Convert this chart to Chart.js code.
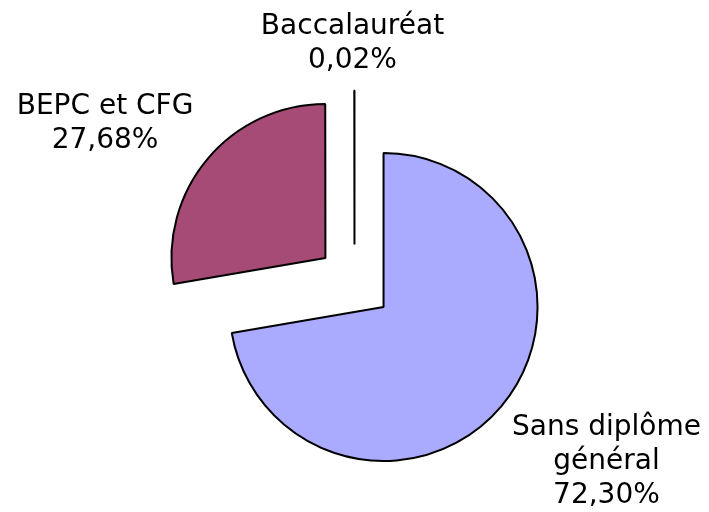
<!DOCTYPE html>
<html>
<head>
<meta charset="utf-8">
<script src="https://cdn.jsdelivr.net/npm/chart.js@4"></script>
<style>
  html, body { margin: 0; padding: 0; background: #fff; }
  #wrap { width: 709px; height: 512px; }
</style>
</head>
<body>
<div id="wrap"><canvas id="pie-chart"></canvas></div>
<script>
// Data
const categories = ['Sans diplôme général', 'BEPC et CFG', 'Baccalauréat'];
const labelLines = [['Sans diplôme', 'général'], ['BEPC et CFG'], ['Baccalauréat']];
const values = [72.30, 27.68, 0.02];
const percentLabels = ['72,30%', '27,68%', '0,02%'];
const colors = ['#AAAAFF', '#A64B76', '#FFFFFF'];

// Excel-style explosion: every slice pushed out along its middle angle
const explode = 38;
// label anchors (block middle), in radius units from the pie centre
const labelPos = [[1.636, 1.146], [-1.62, -1.05], [-0.013, -1.569]];

const explodePlugin = {
  id: 'explode',
  beforeDatasetDraw(chart, args) {
    const ctx = chart.ctx;
    args.meta.data.forEach(arc => {
      const mid = (arc.startAngle + arc.endAngle) / 2;
      ctx.save();
      ctx.translate(Math.cos(mid) * explode, Math.sin(mid) * explode);
      arc.draw(ctx);
      ctx.restore();
    });
    return false;
  }
};

const labelPlugin = {
  id: 'sliceLabels',
  afterDraw(chart) {
    const ctx = chart.ctx;
    const arc0 = chart.getDatasetMeta(0).data[0];
    const cx = arc0.x, cy = arc0.y, r = arc0.outerRadius;
    ctx.save();
    ctx.font = '28px "DejaVu Sans"';
    ctx.fillStyle = '#000';
    ctx.textAlign = 'center';
    ctx.textBaseline = 'alphabetic';
    const lh = 34;
    categories.forEach((c, i) => {
      const lines = labelLines[i].concat([percentLabels[i]]);
      const x = cx + labelPos[i][0] * r;
      const y0 = cy + labelPos[i][1] * r - (lines.length - 1) * lh / 2 + 10;
      lines.forEach((t, j) => ctx.fillText(t, x, y0 + j * lh));
    });
    ctx.restore();
  }
};

const ctx = document.getElementById('pie-chart').getContext('2d');
new Chart(ctx, {
  type: 'pie',
  data: {
    labels: categories,
    datasets: [{
      data: values,
      backgroundColor: colors,
      borderColor: '#000',
      borderWidth: 2
    }]
  },
  options: {
    responsive: true,
    maintainAspectRatio: false,
    animation: false,
    radius: 154,
    layout: { padding: { top: 53 } },
    plugins: {
      legend: { display: false },
      tooltip: { enabled: false }
    }
  },
  plugins: [explodePlugin, labelPlugin]
});
</script>
</body>
</html>
